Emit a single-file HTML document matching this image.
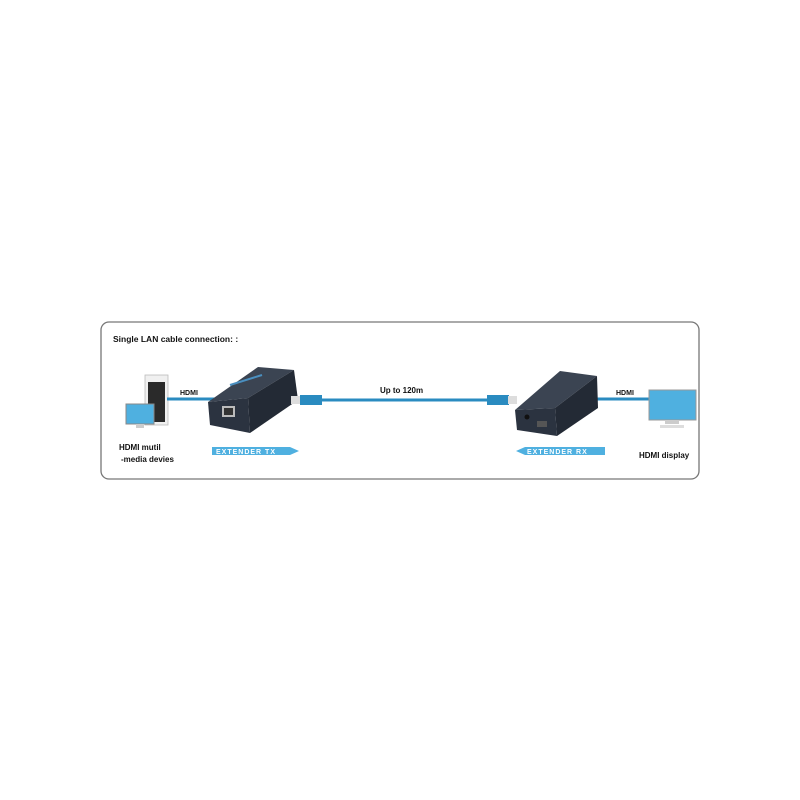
<!DOCTYPE html>
<html><head><meta charset="utf-8"><style>
html,body{margin:0;padding:0;background:#fff;width:800px;height:800px;overflow:hidden}
svg{display:block}
text{font-family:"Liberation Sans",sans-serif;font-weight:bold;fill:#111}
</style></head><body>
<svg width="800" height="800" viewBox="0 0 800 800">
<rect x="101" y="322" width="598" height="157" rx="8" fill="#fff" stroke="#777" stroke-width="1.3"/>
<text x="113" y="342" font-size="8.5">Single LAN cable connection: :</text>
<!-- left devices -->
<rect x="145" y="375" width="23" height="50" fill="#f0f0f0" stroke="#bbb" stroke-width="0.8"/>
<rect x="148" y="382" width="17" height="40" fill="#2a2a2a"/>
<rect x="126" y="404" width="28" height="20" fill="#4fb0e0" stroke="#888" stroke-width="1"/>
<rect x="136" y="424" width="8" height="4" fill="#ccc"/>
<line x1="167" y1="399" x2="215" y2="399" stroke="#2a8bc0" stroke-width="3"/>
<text x="180" y="395" font-size="7">HDMI</text>
<text x="119" y="450" font-size="8">HDMI mutil</text>
<text x="121" y="462" font-size="8">-media devies</text>
<!-- TX box -->
<polygon points="208,402 258,367 294,370 248,398" fill="#3b4452"/>
<polygon points="248,398 294,370 298,400 250,433" fill="#232a35"/>
<polygon points="208,402 248,398 250,433 210,425" fill="#2b3340"/>
<rect x="222" y="406" width="13" height="11" fill="#bbb"/>
<rect x="224" y="408" width="9" height="7" fill="#333"/>
<line x1="230" y1="385" x2="262" y2="375" stroke="#4a8fc0" stroke-width="2"/>
<!-- cable -->
<rect x="291" y="396" width="10" height="8" fill="#ddd"/>
<rect x="300" y="395" width="22" height="10" fill="#2a8bc0"/>
<line x1="320" y1="400" x2="490" y2="400" stroke="#2a8bc0" stroke-width="3"/>
<rect x="487" y="395" width="22" height="10" fill="#2a8bc0"/>
<rect x="508" y="396" width="9" height="8" fill="#ddd"/>
<text x="380" y="393" font-size="8">Up to 120m</text>
<!-- RX box -->
<line x1="585" y1="399" x2="650" y2="399" stroke="#2a8bc0" stroke-width="3"/>
<polygon points="515,410 560,371 597,376 555,408" fill="#3b4452"/>
<polygon points="555,408 597,376 598,408 557,436" fill="#232a35"/>
<polygon points="515,410 555,408 557,436 517,430" fill="#2b3340"/>
<rect x="537" y="421" width="10" height="6" fill="#555"/>
<circle cx="527" cy="417" r="2.5" fill="#111"/>
<text x="616" y="395" font-size="7">HDMI</text>
<!-- display -->
<rect x="649" y="390" width="47" height="30" fill="#4fb0e0" stroke="#999" stroke-width="1"/>
<rect x="665" y="421" width="14" height="3" fill="#ccc"/>
<rect x="660" y="425" width="24" height="3" fill="#ddd"/>
<text x="639" y="458" font-size="8">HDMI display</text>
<!-- labels -->
<polygon points="212,447 290,447 299,451 290,455 212,455" fill="#4fb0e0"/>
<text x="216" y="454" font-size="7" style="fill:#fff;letter-spacing:1px">EXTENDER TX</text>
<polygon points="516,451 525,447 605,447 605,455 525,455" fill="#4fb0e0"/>
<text x="527" y="454" font-size="7" style="fill:#fff;letter-spacing:1px">EXTENDER RX</text>
</svg>
</body></html>
